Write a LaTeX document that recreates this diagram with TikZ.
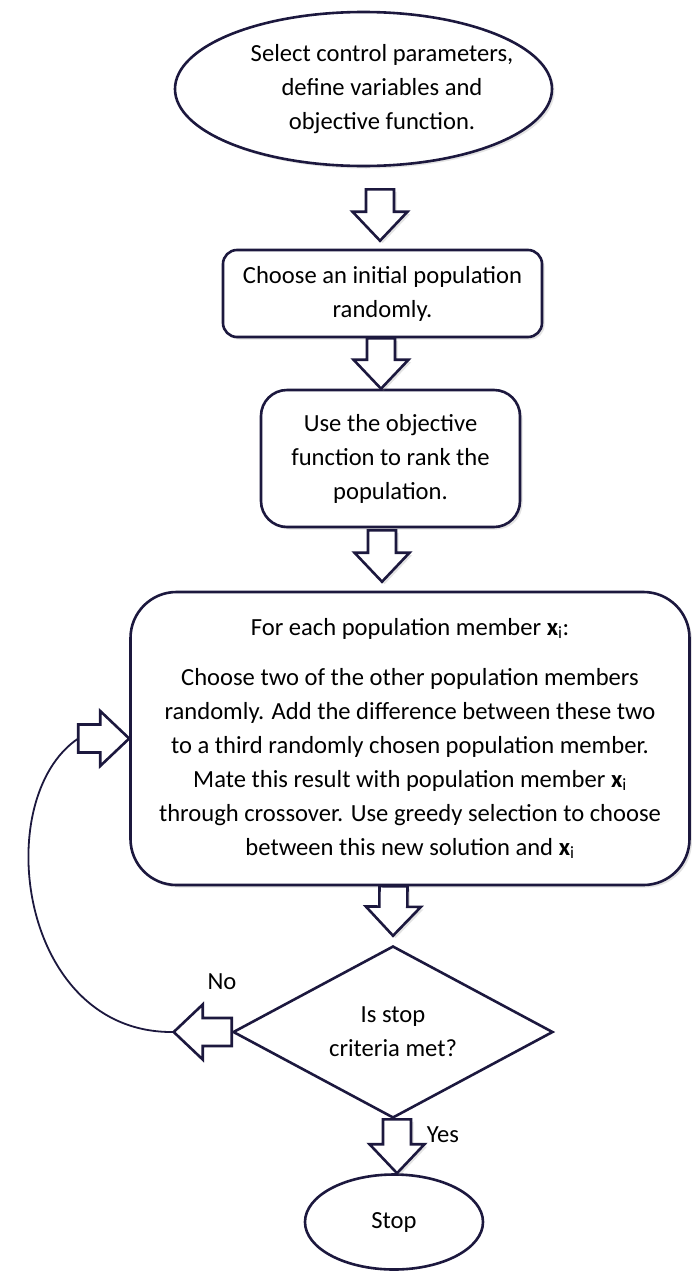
\documentclass[tikz,border=0pt]{standalone}
\usepackage{fontspec}
\setmainfont{Carlito}
\usepackage{xcolor}
\usetikzlibrary{shapes.geometric, shadows, calc}
\definecolor{edge}{RGB}{28, 24, 62}

\begin{document}
\begin{tikzpicture}[x=1pt, y=1pt,
		every node/.style={font=\fontsize{24.6}{34}\selectfont, text=black},
		soft/.style={drop shadow={shadow xshift=2.5pt, shadow yshift=-2.5pt, opacity=0.22}},
		box/.style={rectangle, draw=edge, fill=white, line width=2.6pt,
			align=center, inner sep=0pt, soft},
		oval/.style={ellipse, draw=edge, fill=white, line width=2.6pt,
			align=center, inner sep=0pt},
		fat/.style={draw=edge, fill=white, line width=2.6pt, line join=miter,
			to path={
				($(\tikztostart)!14pt!90:(\tikztotarget)$)
				-- ($(\tikztotarget)!29pt!(\tikztostart)!14pt!90:(\tikztotarget)$)
				-- ($(\tikztotarget)!29pt!(\tikztostart)!27.5pt!90:(\tikztotarget)$)
				-- (\tikztotarget)
				-- ($(\tikztotarget)!29pt!(\tikztostart)!27.5pt!-90:(\tikztotarget)$)
				-- ($(\tikztotarget)!29pt!(\tikztostart)!14pt!-90:(\tikztotarget)$)
				-- ($(\tikztostart)!14pt!-90:(\tikztotarget)$)
				-- cycle}},
		backcurve/.style={draw=edge, line width=1.8pt}]
	
	\path[use as bounding box, fill=white] (0,0) rectangle (692,-1272);
	
	\node[oval, soft, minimum width=377pt, minimum height=154pt] (sel) at (363.5,-89)
		{\hspace*{37pt}\makebox[0pt]{\begin{tabular}{@{}c@{}}Select control parameters,\\
		define variables and\\ objective function.\end{tabular}}};
	\node[box, rounded corners=14pt, minimum width=319pt, minimum height=87pt] (init) at (382.5,-293.5)
		{Choose an initial population\\ randomly.};
	\node[box, rounded corners=26pt, minimum width=259pt, minimum height=137pt] (rank) at (390.5,-458.5)
		{Use the objective\\ function to rank the\\ population.};
	\node[box, rounded corners=46pt, minimum width=559pt, minimum height=293pt] (member) at (410,-738.5)
		{For each population member \textbf{x}\textsubscript{i}:\\[16pt]
		Choose two of the other population members\\
		randomly. Add the difference between these two\\
		to a third randomly chosen population member.\\
		Mate this result with population member \textbf{x}\textsubscript{i}\\
		through crossover. Use greedy selection to choose\\
		between this new solution and \textbf{x}\textsubscript{i}};
	\node[diamond, draw=edge, fill=white, line width=2.6pt, align=center, inner sep=0pt,
		aspect=1.86, minimum width=320pt, minimum height=172pt] (crit) at (393,-1032)
		{Is stop\\ criteria met?};
	\node[oval, minimum width=178pt, minimum height=95pt] (stop) at (394,-1222) {Stop};
	
	\node (no) at (222,-982) {No};
	\node (yes) at (443,-1135) {Yes};
	
	\coordinate (noend) at ([xshift=-58pt]crit.west);
	\coordinate (loopstart) at ([xshift=-51pt]member.west);
	
	\draw[fat, soft] ([xshift=16.5pt, yshift=-22pt]sel.south) to ([xshift=-2.5pt, yshift=8pt]init.north);
	\draw[fat, soft] ([xshift=-1.5pt]init.south) to ([xshift=-9.5pt]rank.north);
	\draw[fat, soft] ([xshift=-8.5pt, yshift=-2pt]rank.south) to ([xshift=-28pt, yshift=9pt]member.north);
	\draw[fat, soft] ([xshift=-16.5pt]member.south) to ([yshift=9pt]crit.north);
	\draw[fat] (crit.west) to (noend);
	\draw[backcurve] (noend) .. controls +(-155,-2) and +(-89,-60) .. (loopstart);
	\draw[fat] (loopstart) to (member.west);
	\draw[fat, soft] ([xshift=4pt]crit.south) to ([xshift=3pt]stop.north);
\end{tikzpicture}
\end{document}
